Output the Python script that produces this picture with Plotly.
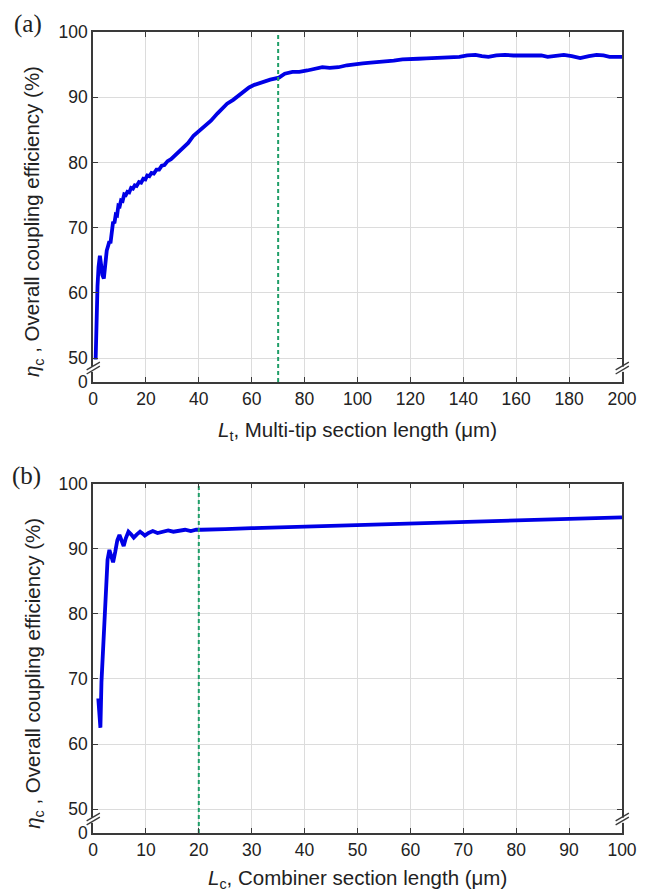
import plotly.graph_objects as go

# (a) overall coupling efficiency vs multi-tip section length
lt_um = [1.0, 1.3, 1.7, 2.1, 2.6, 3.0, 3.5, 4.1, 4.6, 5.2, 5.7, 6.2, 6.6, 7.0, 7.6, 8.1,
         8.6, 9.1, 9.6, 10.1, 10.6, 11.2, 11.8, 12.4, 13.0, 13.7, 14.4, 15.1, 15.8, 16.5,
         17.4, 18.2, 19.0, 19.8, 20.5, 21.3, 22.1, 23.0, 24.0, 25.0, 26.0, 27.0, 28.2,
         29.5, 31.0, 32.2, 34.0, 36.0, 38.0, 40.0, 42.0, 44.6, 47.0, 49.0, 50.7, 53.0,
         55.0, 56.9, 59.0, 61.0, 63.0, 65.0, 67.0, 70.3, 72.5, 75.4, 78.0, 81.0, 84.0,
         86.7, 89.5, 92.8, 96.0, 98.9, 102, 105, 109, 113.7, 117, 119.9, 123, 126, 130,
         133.5, 136, 138.5, 141.5, 144.6, 147, 149.5, 152.5, 155.7, 159, 163, 166.9,
         169.5, 171.9, 175, 178, 181, 184.2, 187.5, 190.4, 193, 195.3, 198, 200]
eta_a = [49.8, 56.0, 61.0, 64.0, 65.7, 64.5, 62.8, 62.2, 64.3, 66.5, 67.2, 67.9, 67.6, 68.6,
         70.9, 70.7, 72.0, 71.9, 73.4, 73.3, 74.2, 74.1, 75.1, 75.0, 75.5, 75.4, 76.1, 76.0,
         76.5, 76.4, 77.0, 76.9, 77.5, 77.4, 78.0, 77.9, 78.4, 78.3, 78.9, 78.9, 79.5, 79.6,
         80.2, 80.5, 81.1, 81.6, 82.3, 83.0, 84.1, 84.8, 85.5, 86.4, 87.5, 88.4, 89.0, 89.6,
         90.2, 90.9, 91.5, 91.9, 92.2, 92.5, 92.7, 93.0, 93.6, 93.9, 93.9, 94.1, 94.4, 94.6,
         94.5, 94.6, 94.9, 95.1, 95.2, 95.3, 95.4, 95.6, 95.8, 95.9, 95.9, 95.95, 96.0, 96.0,
         96.1, 96.2, 96.4, 96.5, 96.3, 96.2, 96.4, 96.5, 96.4, 96.4, 96.5, 96.4, 96.2, 96.3,
         96.5, 96.3, 96.0, 96.3, 96.5, 96.4, 96.2, 96.2, 96.2]
lt_marker = 70

# (b) overall coupling efficiency vs combiner section length
lc_um = [1.0, 1.2, 1.4, 1.6, 2.0, 2.4, 2.75, 3.1, 3.4, 3.8, 4.2, 4.6, 5.0, 5.4, 5.8, 6.2,
         6.7, 7.2, 7.7, 8.3, 8.9, 9.4, 9.8, 10.5, 11.3, 12.2, 13.2, 14.2, 15.2, 16.3, 17.4,
         18.5, 19.5, 20.5, 22, 25, 30, 40, 50, 60, 70, 80, 90, 100]
eta_b = [67.0, 64.5, 62.5, 69.5, 76.0, 82.5, 88.3, 89.8, 89.0, 87.9, 89.5, 91.3, 92.1, 91.2,
         90.4, 91.6, 92.6, 92.2, 91.7, 92.2, 92.6, 92.3, 92.0, 92.4, 92.7, 92.4, 92.6, 92.8,
         92.6, 92.8, 92.9, 92.7, 92.9, 92.9, 92.9, 93.0, 93.15, 93.4, 93.65, 93.9, 94.15,
         94.4, 94.6, 94.8]
lc_marker = 20

# broken y axis: the "0" tick sits just below 50
y_zero_pos = 46.34
y_tickvals = [y_zero_pos, 50, 60, 70, 80, 90, 100]
y_ticktext = ["0", "50", "60", "70", "80", "90", "100"]
xa_ticks = [0, 20, 40, 60, 80, 100, 120, 140, 160, 180, 200]
xb_ticks = [0, 10, 20, 30, 40, 50, 60, 70, 80, 90, 100]

BLUE = "#0000e6"
GREEN = "#1f9e68"
AXC = "#3a3a3a"
GRID = "#dcdcdc"
SANS = "Liberation Sans, Arial, sans-serif"

fig = go.Figure()
fig.add_trace(go.Scatter(x=lt_um, y=eta_a, mode="lines", xaxis="x", yaxis="y",
                         line=dict(color=BLUE, width=3.8), showlegend=False))
fig.add_trace(go.Scatter(x=[lt_marker, lt_marker], y=[y_zero_pos, 100], mode="lines",
                         xaxis="x", yaxis="y", showlegend=False,
                         line=dict(color=GREEN, width=2, dash="4px,3px")))
fig.add_trace(go.Scatter(x=lc_um, y=eta_b, mode="lines", xaxis="x2", yaxis="y2",
                         line=dict(color=BLUE, width=3.8), showlegend=False))
fig.add_trace(go.Scatter(x=[lc_marker, lc_marker], y=[y_zero_pos, 100], mode="lines",
                         xaxis="x2", yaxis="y2", showlegend=False,
                         line=dict(color=GREEN, width=2, dash="4px,3px")))

common_axis = dict(showline=True, linecolor=AXC, linewidth=1.5, mirror="ticks",
                   ticks="inside", ticklen=5, tickcolor=AXC, tickwidth=1.2,
                   showgrid=True, gridcolor=GRID, gridwidth=1, zeroline=False,
                   tickfont=dict(family=SANS, size=17.5, color="#222"))

top_lo, bot_hi = 0.563, 0.4363
fig.update_layout(
    width=649, height=894,
    margin=dict(l=93, r=16, t=32, b=61),
    paper_bgcolor="white", plot_bgcolor="white",
    xaxis=dict(domain=[0, 1], anchor="y", range=[0, 200], tickvals=xa_ticks, **common_axis),
    yaxis=dict(domain=[top_lo, 1], anchor="x", range=[y_zero_pos, 100],
               tickvals=y_tickvals, ticktext=y_ticktext, **common_axis),
    xaxis2=dict(domain=[0, 1], anchor="y2", range=[0, 100], tickvals=xb_ticks, **common_axis),
    yaxis2=dict(domain=[0, bot_hi], anchor="x2", range=[y_zero_pos, 100],
                tickvals=y_tickvals, ticktext=y_ticktext, **common_axis),
)

# axis-break marks on both vertical edges of each panel
shapes = []
for xr, yr in (("x domain", "y"), ("x2 domain", "y2")):
    for edge in (0.0, 1.0):
        shapes.append(dict(type="rect", xref=xr, yref=yr, x0=edge - 0.005, x1=edge + 0.005,
                           y0=47.9, y1=48.7, fillcolor="white", line=dict(width=0),
                           layer="above"))
        for dy in (0.0, -0.62):
            shapes.append(dict(type="line", xref=xr, yref=yr,
                               x0=edge - 0.012, y0=48.2 + dy, x1=edge + 0.013, y1=49.4 + dy,
                               line=dict(color=AXC, width=1.3), layer="above"))
fig.update_layout(shapes=shapes)

ytitle = "<i>η</i><sub>c</sub> , Overall coupling efficiency (%)"
title_font = dict(family=SANS, size=20.5, color="#222")
label_font = dict(family="Liberation Serif, Times New Roman, serif", size=25, color="#222")
annotations = [
    dict(text=ytitle, textangle=-90, x=-0.113, y=0.763, font=title_font),
    dict(text=ytitle, textangle=-90, x=-0.113, y=0.199, font=title_font),
    dict(text="<i>L</i><sub>t</sub>, Multi-tip section length (μm)", x=0.5, y=0.502,
         font=title_font),
    dict(text="<i>L</i><sub>c</sub>, Combiner section length (μm)", x=0.5, y=-0.058,
         font=title_font),
    dict(text="(a)", x=-0.122, y=1.01, font=label_font),
    dict(text="(b)", x=-0.126, y=0.4457, font=label_font),
]
for a in annotations:
    a.update(xref="paper", yref="paper", showarrow=False, xanchor="center", yanchor="middle")
fig.update_layout(annotations=annotations)

fig.write_html("out.html")
